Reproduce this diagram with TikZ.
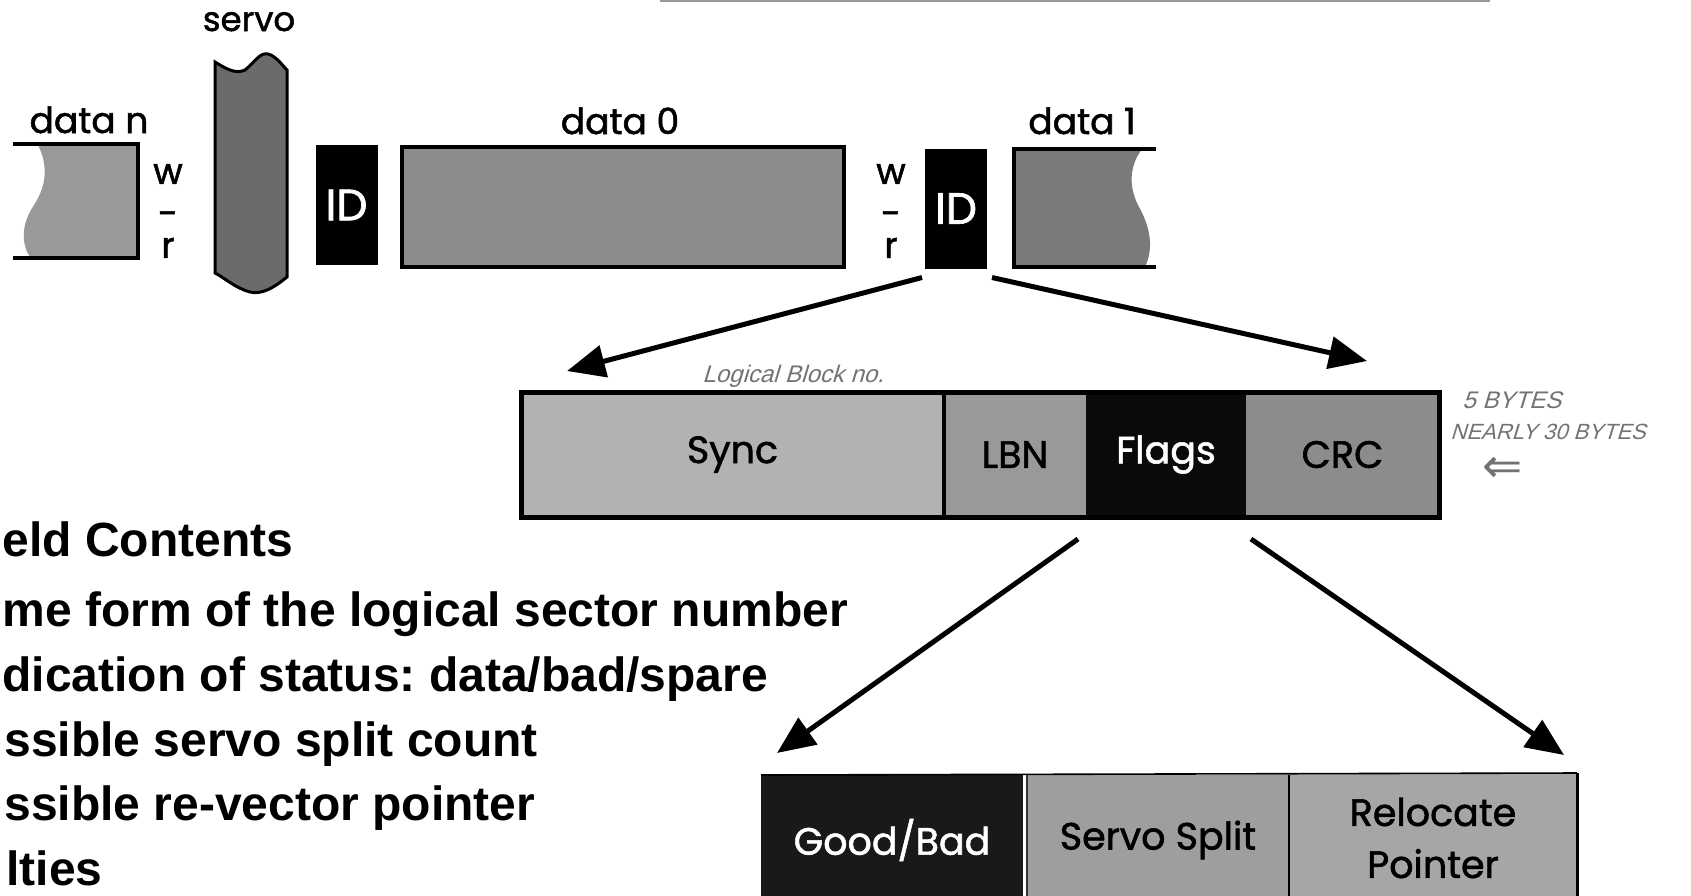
\documentclass[tikz,border=0pt]{standalone}
\usepackage{fontspec}
\setmainfont{Liberation Sans}
\newfontfamily\geo{Poppins}[FakeBold=1.5]
\newfontfamily\hand{Liberation Sans}[FakeSlant=0.3]
\newfontfamily\arrowfont{DejaVu Sans}
\usetikzlibrary{arrows.meta}
\newdimen\px \px=0.5pt
% halftone grey levels
\definecolor{gDataN}{gray}{0.60}
\definecolor{gServo}{gray}{0.42}
\definecolor{gData0}{gray}{0.55}
\definecolor{gData1}{gray}{0.48}
\definecolor{gSync}{gray}{0.70}
\definecolor{gLBN}{gray}{0.60}
\definecolor{gFlags}{gray}{0.04}
\definecolor{gCRC}{gray}{0.55}
\definecolor{gGood}{gray}{0.10}
\definecolor{gSplit}{gray}{0.62}
\definecolor{gReloc}{gray}{0.65}
\definecolor{ink}{gray}{0.45}
\frenchspacing
\begin{document}
\begin{tikzpicture}[x=0.5pt,y=-0.5pt,
  cellbox/.style={rectangle, inner sep=0, outer sep=0},
  lbl/.style={font=\geo\fontsize{18}{20}\selectfont},
  gap/.style={lbl, align=center, inner sep=0},
  fieldtxt/.style={font=\geo\fontsize{19}{21}\selectfont},
  idblk/.style={cellbox, fill=black, text=white, font=\geo\fontsize{22}{24}\selectfont, minimum width=62\px, minimum height=120\px},
  arrow/.style={line width=2.5pt, -{Triangle[length=19pt,width=16pt]}},
  bullet/.style={anchor=base west, inner sep=0, font=\bfseries\fontsize{24}{26}\selectfont},
  note/.style={font=\hand\fontsize{12}{13}\selectfont, text=ink, inner sep=0}]
\clip (0,0) rectangle (1691,895);
\fill[white] (0,0) rectangle (1691,895);

% rule at the top edge
\draw[gray!80, line width=1pt] (660,1) -- (1490,1);

% ---- track layout ----
% data n (broken on the left)
\fill[gDataN] (38,145) .. controls (48,165) and (47,185) .. (34,205)
  .. controls (20,226) and (22,245) .. (30,257) -- (138,257) -- (138,145) -- cycle;
\draw[line width=2pt] (13,144) -- (138,144) -- (138,258) -- (13,258);
\node[lbl, anchor=base] (lblN) at (89,133) {data n};

% write-to-read gap
\node[gap] (gapL) at (168,211) {w\\[1pt]-\\[-4pt]r};

% servo burst
\filldraw[fill=gServo, line width=1.5pt] (215,62)
  .. controls (228,70) and (236,74) .. (245,70)
  .. controls (255,62) and (260,52) .. (268,54)
  .. controls (276,56) and (282,65) .. (287,70)
  -- (287,277)
  .. controls (275,287) and (262,295) .. (250,292)
  .. controls (235,288) and (225,278) .. (215,273) -- cycle;
\node[font=\geo\fontsize{17}{18}\selectfont, anchor=base] (lblServo) at (249,31) {servo};

\node[idblk] (id1) at (346.5,205) {ID};

% data 0
\node[cellbox, draw, line width=2pt, fill=gData0, minimum width=442\px, minimum height=120\px] (d0) at (623,207) {};
\node[lbl, anchor=base] (lbl0) at (620,134) {data 0};

\node[gap] (gapR) at (891,211) {w\\[1pt]-\\[-4pt]r};

\node[idblk] (id2) at (956,208.5) {ID};

% data 1 (broken on the right)
\fill[gData1] (1014,149) -- (1142,149) .. controls (1130,165) and (1128,185) .. (1138,205)
  .. controls (1152,230) and (1153,250) .. (1145,267) -- (1014,267) -- cycle;
\draw[line width=2pt] (1156,149) -- (1014,149) -- (1014,267) -- (1156,267);
\node[lbl, anchor=base] (lbl1) at (1082,134) {data 1};

% ---- ID field ----
\node[cellbox, fill=gSync,  minimum width=423\px, minimum height=125\px, fieldtxt] (sync)  at (732.5,454.5) {Sync};
\node[cellbox, fill=gLBN,   minimum width=142\px, minimum height=125\px, fieldtxt] (lbn)   at (1015,454.5) {LBN};
\node[cellbox, fill=gFlags, minimum width=160\px, minimum height=125\px, fieldtxt, text=white] (flags) at (1166,454.5) {Flags};
\node[cellbox, fill=gCRC,   minimum width=193\px, minimum height=125\px, fieldtxt] (crc)   at (1342.5,454.5) {CRC};
\draw[line width=2.5pt] (sync.north west) rectangle (crc.south east);
\draw[line width=2pt] (sync.north east) -- (sync.south east);

\coordinate (t1) at (567,371);
\coordinate (t2) at (1367,361);
\draw[arrow] ([shift={(-3,9)}]id2.south west) -- (t1);
\draw[arrow] ([shift={(5,9)}]id2.south east) -- (t2);

% ---- flags byte ----
\node[cellbox, fill=gGood,  minimum width=262\px, minimum height=130\px, fieldtxt, text=white] (gb) at (892,840) {Good/Bad};
\node[cellbox, fill=gSplit, minimum width=262\px, minimum height=130\px, fieldtxt] (ss) at (1158,840) {Servo Split};
\node[cellbox, fill=gReloc, minimum width=288\px, minimum height=130\px, fieldtxt, align=center] (rp) at (1433,838) {Relocate\\[5pt]Pointer};
\draw[line width=0.8pt] (gb.north west) -- (rp.north east);
\draw[line width=1.5pt] (rp.north east) -- (rp.south east);
\draw[line width=0.8pt, gray!40!black] (ss.north west) -- (ss.south west);
\draw[line width=1.2pt] (ss.north east) -- (ss.south east);

\coordinate (t3) at (777,753);
\coordinate (t4) at (1564,755);
\draw[arrow] ([shift={(-8,22)}]flags.south west) -- (t3);
\draw[arrow] ([shift={(5,22)}]flags.south east) -- (t4);

% ---- field contents list ----
\node[bullet] (c0) at (2,556) {eld Contents};
\node[bullet] (c1) at (2,626) {me form of the logical sector number};
\node[bullet] (c2) at (2,691) {dication of status: data/bad/spare};
\node[bullet] (c3) at (4,756) {ssible servo split count};
\node[bullet] (c4) at (4,820) {ssible re-vector pointer};
\node[bullet] (c5) at (6,885) {lties};

% ---- pencilled notes ----
\node[note] (n1) at (793,376) {Logical Block no.};
\node[note, anchor=west] (n2) at (1462,400) {5 BYTES};
\node[note, anchor=west, font=\hand\fontsize{11}{12}\selectfont] (n3) at (1450,432) {NEARLY 30 BYTES};
\node[note, anchor=west, font=\arrowfont\fontsize{24}{24}\selectfont] (n4) at (1482,470) {⇐};
\end{tikzpicture}
\end{document}
